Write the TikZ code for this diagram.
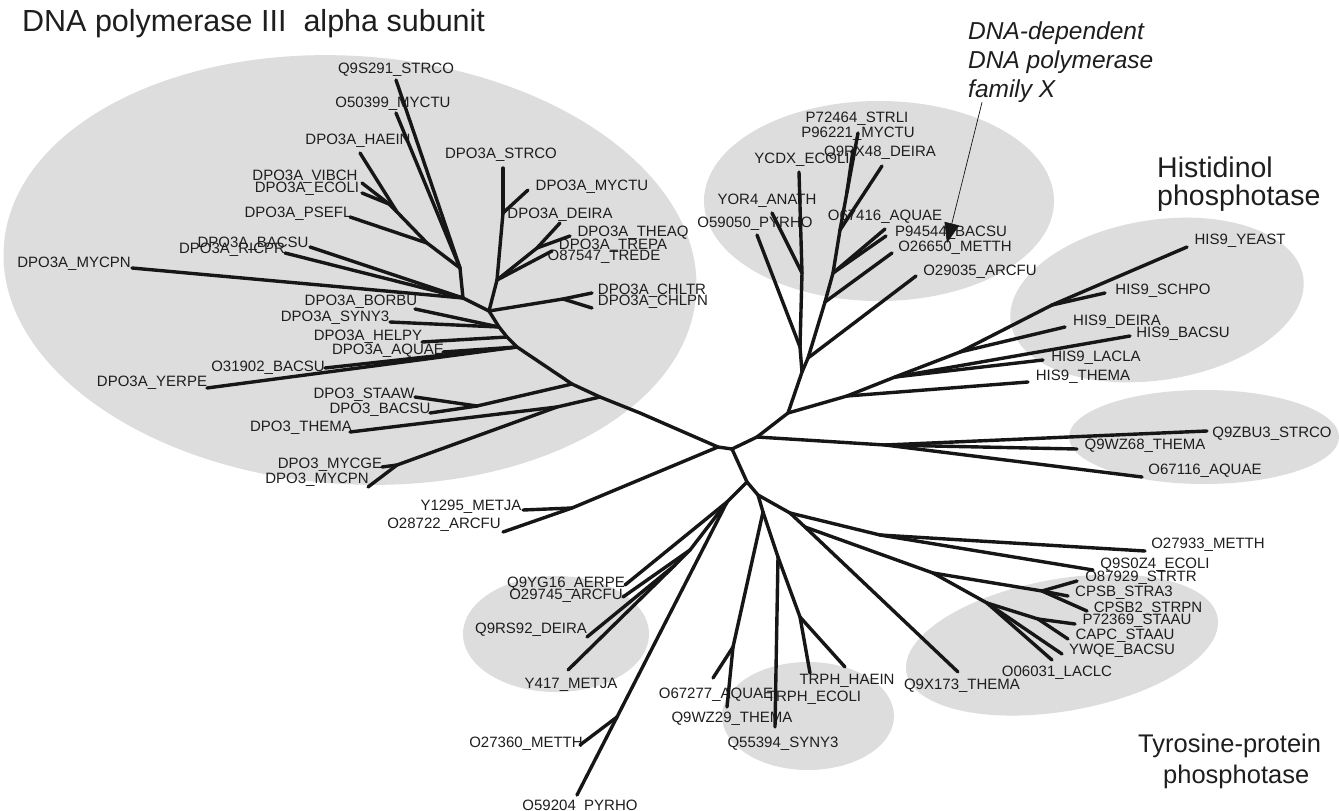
\documentclass[tikz,border=0pt]{standalone}
\usepackage{fontspec}
\setmainfont{Liberation Sans}
\usetikzlibrary{arrows.meta}
\definecolor{ellgray}{RGB}{221,221,221}
\definecolor{inkc}{RGB}{22,22,22}
\definecolor{txtc}{RGB}{30,30,30}
\begin{document}
\begin{tikzpicture}[x=1pt,y=-1pt,
  br/.style={line width=3.4pt, draw=inkc, line cap=round, line join=round},
  lab/.style={font=\fontsize{15}{15}\selectfont, text=txtc, inner sep=0pt, anchor=base},
  grp/.style={fill=ellgray, draw=none},
  head/.style={font=\fontsize{#1}{#1}\selectfont, text=txtc, inner sep=0pt, anchor=base west},
  pointer/.style={draw=inkc, line width=0.7pt, -{Triangle[length=20pt,width=15pt]}}]
\path[use as bounding box] (0,0) rectangle (1339,811);
\fill[white] (0,0) rectangle (1339,811);

% background groups
\fill[grp, rotate around={-4:(350,270)}] (350,270) ellipse [x radius=347, y radius=214];
\fill[grp] (879,201) ellipse [x radius=175, y radius=100];
\fill[grp, rotate around={9:(1157,300)}] (1157,300) ellipse [x radius=148, y radius=80];
\fill[grp] (1204,437) ellipse [x radius=135, y radius=47];
\fill[grp, rotate around={10:(1062,645)}] (1062,645) ellipse [x radius=158, y radius=66];
\fill[grp] (556,634) ellipse [x radius=93, y radius=58];
\fill[grp] (808,716) ellipse [x radius=86, y radius=54];

% headings
\node[head=30.5] (hPol3) at (22,31) {DNA polymerase III~~alpha subunit};
\node[head=24.5, font=\itshape\fontsize{24.5}{24.5}\selectfont] (hPolXa) at (968,39) {DNA-dependent};
\node[head=24.5, font=\itshape\fontsize{24.5}{24.5}\selectfont] (hPolXb) at (968,68) {DNA polymerase};
\node[head=24.5, font=\itshape\fontsize{24.5}{24.5}\selectfont] (hPolXc) at (968,97) {family X};
\node[head=28.5] (hHisa) at (1157,177) {Histidinol};
\node[head=28.5] (hHisb) at (1157,205) {phosphotase};
\node[head=25.5] (hTyra) at (1138,752) {Tyrosine-protein};
\node[head=25.5] (hTyrb) at (1163,783) {phosphotase};

% ---------- labels ----------
\node[lab] (tQ9S291) at (396,73) {Q9S291\_STRCO};
\node[lab] (tO50399) at (393,107) {O50399\_MYCTU};
\node[lab] (tHAEIN) at (358,144) {DPO3A\_HAEIN};
\node[lab] (tVIBCH) at (305,180) {DPO3A\_VIBCH};
\node[lab] (tECOLI) at (307,192) {DPO3A\_ECOLI};
\node[lab] (tPSEFL) at (298,217) {DPO3A\_PSEFL};
\node[lab] (tBACSUa) at (253,247) {DPO3A\_BACSU};
\node[lab] (tRICPR) at (232,253) {DPO3A\_RICPR};
\node[lab] (tMYCPNa) at (74,267) {DPO3A\_MYCPN};
\node[lab] (tBORBU) at (361,305) {DPO3A\_BORBU};
\node[lab] (tSYNY3) at (335,321) {DPO3A\_SYNY3};
\node[lab] (tHELPY) at (368,340) {DPO3A\_HELPY};
\node[lab] (tAQUAEa) at (388,354) {DPO3A\_AQUAE};
\node[lab] (tO31902) at (268,371) {O31902\_BACSU};
\node[lab] (tYERPE) at (152,386) {DPO3A\_YERPE};
\node[lab] (tSTAAW) at (364,398) {DPO3\_STAAW};
\node[lab] (tBACSU3) at (380,413) {DPO3\_BACSU};
\node[lab] (tTHEMA3) at (301,431) {DPO3\_THEMA};
\node[lab] (tMYCGE) at (330,468) {DPO3\_MYCGE};
\node[lab] (tMYCPN3) at (317,483) {DPO3\_MYCPN};
\node[lab] (tSTRCOa) at (501,158) {DPO3A\_STRCO};
\node[lab] (tMYCTUa) at (592,190) {DPO3A\_MYCTU};
\node[lab] (tDEIRAa) at (560,218) {DPO3A\_DEIRA};
\node[lab] (tTHEAQ) at (633,236) {DPO3A\_THEAQ};
\node[lab] (tTREPA) at (613,249) {DPO3A\_TREPA};
\node[lab] (tTREDE) at (604,260) {O87547\_TREDE};
\node[lab] (tCHLTR) at (652,294) {DPO3A\_CHLTR};
\node[lab] (tCHLPN) at (653,305) {DPO3A\_CHLPN};

\node[lab] (tP72464) at (857,122) {P72464\_STRLI};
\node[lab] (tP96221) at (858,137) {P96221\_MYCTU};
\node[lab] (tYCDX) at (802,163) {YCDX\_ECOLI};
\node[lab] (tQ9RX48) at (880,156) {Q9RX48\_DEIRA};
\node[lab] (tYOR4) at (767,204) {YOR4\_ANATH};
\node[lab] (tO59050) at (755,227) {O59050\_PYRHO};
\node[lab] (tO67416) at (885,220) {O67416\_AQUAE};
\node[lab] (tP94544) at (951,236) {P94544\_BACSU};
\node[lab] (tO26650) at (955,251) {O26650\_METTH};
\node[lab] (tO29035) at (980,275) {O29035\_ARCFU};

\node[lab] (tYEAST) at (1240,244) {HIS9\_YEAST};
\node[lab] (tSCHPO) at (1163,294) {HIS9\_SCHPO};
\node[lab] (tDEIRAh) at (1117,325) {HIS9\_DEIRA};
\node[lab] (tBACSUh) at (1183,337) {HIS9\_BACSU};
\node[lab] (tLACLA) at (1096,361) {HIS9\_LACLA};
\node[lab] (tTHEMAh) at (1083,380) {HIS9\_THEMA};

\node[lab] (tQ9ZBU3) at (1272,437) {Q9ZBU3\_STRCO};
\node[lab] (tQ9WZ68) at (1145,449) {Q9WZ68\_THEMA};
\node[lab] (tO67116) at (1205,474) {O67116\_AQUAE};

\node[lab] (tO27933) at (1208,548) {O27933\_METTH};
\node[lab] (tQ9S0Z4) at (1155,568) {Q9S0Z4\_ECOLI};
\node[lab] (tO87929) at (1141,581) {O87929\_STRTR};
\node[lab] (tSTRA3) at (1124,596) {CPSB\_STRA3};
\node[lab] (tCPSB2) at (1148,612) {CPSB2\_STRPN};
\node[lab] (tP72369) at (1137,624) {P72369\_STAAU};
\node[lab] (tCAPC) at (1125,639) {CAPC\_STAAU};
\node[lab] (tYWQE) at (1122,654) {YWQE\_BACSU};
\node[lab] (tO06031) at (1057,676) {O06031\_LACLC};
\node[lab] (tQ9X173) at (962,689) {Q9X173\_THEMA};

\node[lab] (tQ9YG16) at (566,587) {Q9YG16\_AERPE};
\node[lab] (tO29745) at (566,599) {O29745\_ARCFU};
\node[lab] (tQ9RS92) at (531,633) {Q9RS92\_DEIRA};
\node[lab] (tY417) at (571,688) {Y417\_METJA};
\node[lab] (tO27360) at (526,747) {O27360\_METTH};
\node[lab] (tO59204) at (580,810) {O59204\_PYRHO};
\node[lab] (tY1295) at (471,510) {Y1295\_METJA};
\node[lab] (tO28722) at (444,528) {O28722\_ARCFU};
\node[lab] (tO67277) at (716,698) {O67277\_AQUAE};
\node[lab] (tTRPHE) at (814,701) {TRPH\_ECOLI};
\node[lab] (tTRPHH) at (847,684) {TRPH\_HAEIN};
\node[lab] (tQ9WZ29) at (732,722) {Q9WZ29\_THEMA};
\node[lab] (tQ55394) at (783,747) {Q55394\_SYNY3};

% ---------- tree points ----------
\coordinate (A) at (718,447);
\coordinate (B) at (732,449);
\coordinate (Q0) at (757,437);
\coordinate (X4) at (788,413);
\coordinate (Qn) at (885,445);
\coordinate (lQ9ZBU3) at (1207,431);
\coordinate (lQ9WZ68) at (1077,449);
\coordinate (lO67116) at (1142,477);
\coordinate (X3) at (802,372);
\coordinate (X1) at (800,347);
\coordinate (X2) at (808,358);
\coordinate (lO59050) at (757,235);
\coordinate (Yn) at (802,273);
\coordinate (lYCDX) at (799,172);
\coordinate (lYOR4) at (772,213);
\coordinate (lO29035) at (916,276);
\coordinate (P1) at (825,302);
\coordinate (lO26650) at (892,253);
\coordinate (P2) at (833,273);
\coordinate (lP94544) at (886,236);
\coordinate (lO67416) at (885,229);
\coordinate (P3) at (840,230);
\coordinate (lQ9RX48) at (882,166);
\coordinate (P4) at (847,192);
\coordinate (lP96221) at (858,133);
\coordinate (lP72464) at (853,150);
\coordinate (H0) at (847,396);
\coordinate (lTHEMAh) at (1028,382);
\coordinate (Ha) at (895,377);
\coordinate (lLACLA) at (1043,360);
\coordinate (lBACSUh) at (1130,336);
\coordinate (Hb) at (960,352);
\coordinate (lDEIRAh) at (1065,327);
\coordinate (Hc) at (1052,305);
\coordinate (lYEAST) at (1187,247);
\coordinate (lSCHPO) at (1105,293);
\coordinate (T4) at (640,413);
\coordinate (T3) at (600,397);
\coordinate (T2) at (572,384);
\coordinate (T1) at (517,347);
\coordinate (Th) at (507,337);
\coordinate (Tb) at (499,327);
\coordinate (T0) at (489,311);
\coordinate (lBORBU) at (415,309);
\coordinate (lSYNY3) at (390,322);
\coordinate (lHELPY) at (422,342);
\coordinate (lAQUAEa) at (443,352);
\coordinate (lO31902) at (325,368);
\coordinate (lYERPE) at (207,388);
\coordinate (Ts) at (477,406);
\coordinate (lSTAAW) at (415,397);
\coordinate (lBACSU3) at (430,413);
\coordinate (Tm) at (557,407);
\coordinate (lTHEMA3) at (350,432);
\coordinate (Tmy) at (397,465);
\coordinate (lMYCGE) at (382,467);
\coordinate (lMYCPN3) at (368,487);
\coordinate (U1) at (463,298);
\coordinate (lBACSUa) at (310,247);
\coordinate (lRICPR) at (285,253);
\coordinate (lMYCPNa) at (132,268);
\coordinate (U2) at (460,268);
\coordinate (lQ9S291) at (396,80);
\coordinate (lO50399) at (396,113);
\coordinate (H1) at (427,243);
\coordinate (lPSEFL) at (350,217);
\coordinate (H2) at (397,212);
\coordinate (lHAEIN) at (360,153);
\coordinate (H3) at (389,204);
\coordinate (lVIBCH) at (362,183);
\coordinate (lECOLI) at (362,193);
\coordinate (S1) at (497,280);
\coordinate (G1) at (537,248);
\coordinate (lTHEAQ) at (560,223);
\coordinate (lTREPA) at (570,236);
\coordinate (lTREDE) at (552,251);
\coordinate (S2) at (503,213);
\coordinate (lMYCTUa) at (528,190);
\coordinate (lSTRCOa) at (503,168);
\coordinate (C1) at (563,299);
\coordinate (lCHLTR) at (592,293);
\coordinate (lCHLPN) at (592,308);
\coordinate (Y0) at (572,508);
\coordinate (lY1295) at (523,510);
\coordinate (lO28722) at (503,532);
\coordinate (B0) at (747,482);
\coordinate (B1) at (727,502);
\coordinate (lQ9YG16) at (625,585);
\coordinate (B1a) at (690,550);
\coordinate (lO29745) at (623,597);
\coordinate (B1b) at (675,565);
\coordinate (lQ9RS92) at (587,637);
\coordinate (lY417) at (568,670);
\coordinate (B1c) at (617,717);
\coordinate (lO27360) at (580,745);
\coordinate (lO59204) at (577,795);
\coordinate (B2) at (758,495);
\coordinate (B3) at (763,512);
\coordinate (Bq) at (733,647);
\coordinate (lO67277) at (713,678);
\coordinate (lQ9WZ29) at (727,707);
\coordinate (B4) at (778,557);
\coordinate (lQ55394) at (775,727);
\coordinate (B5) at (800,617);
\coordinate (lTRPHE) at (810,673);
\coordinate (lTRPHH) at (845,667);
\coordinate (R1) at (790,513);
\coordinate (R2) at (880,535);
\coordinate (lO27933) at (1145,551);
\coordinate (lQ9S0Z4) at (1093,570);
\coordinate (R3) at (805,527);
\coordinate (lQ9X173) at (958,672);
\coordinate (R4) at (933,573);
\coordinate (Ra) at (1042,591);
\coordinate (lO87929) at (1077,581);
\coordinate (lSTRA3) at (1068,596);
\coordinate (lCPSB2) at (1087,611);
\coordinate (Rb) at (987,603);
\coordinate (Rc) at (1038,619);
\coordinate (lP72369) at (1075,624);
\coordinate (lCAPC) at (1068,639);
\coordinate (lYWQE) at (1062,654);
\coordinate (lO06031) at (1052,660);

% ---------- branches ----------
\draw[br] (A) -- (B);
\draw[br] (B) -- (Q0);
\draw[br] (Q0) -- (X4);
\draw[br] (Q0) -- (Qn);
\draw[br] (Qn) -- (lQ9ZBU3);
\draw[br] (Qn) -- (lQ9WZ68);
\draw[br] (Qn) -- (lO67116);
\draw[br] (X4) -- (X3);
\draw[br] (X3) -- (X1);
\draw[br] (X3) -- (X2);
\draw[br] (X1) -- (lO59050);
\draw[br] (X1) -- (Yn);
\draw[br] (Yn) -- (lYCDX);
\draw[br] (Yn) -- (lYOR4);
\draw[br] (X2) -- (lO29035);
\draw[br] (X2) -- (P1);
\draw[br] (P1) -- (lO26650);
\draw[br] (P1) -- (P2);
\draw[br] (P2) -- (lP94544);
\draw[br] (P2) -- (lO67416);
\draw[br] (P2) -- (P3);
\draw[br] (P3) -- (lQ9RX48);
\draw[br] (P3) -- (P4);
\draw[br] (P4) -- (lP96221);
\draw[br] (P4) -- (lP72464);
\draw[br] (X4) -- (H0);
\draw[br] (H0) -- (lTHEMAh);
\draw[br] (H0) -- (Ha);
\draw[br] (Ha) -- (lLACLA);
\draw[br] (Ha) -- (lBACSUh);
\draw[br] (Ha) -- (Hb);
\draw[br] (Hb) -- (lDEIRAh);
\draw[br] (Hb) -- (Hc);
\draw[br] (Hc) -- (lYEAST);
\draw[br] (Hc) -- (lSCHPO);
\draw[br] (A) -- (T4) -- (T3) -- (T2) -- (T1) -- (Th) -- (Tb) -- (T0);
\draw[br] (Tb) -- (lBORBU);
\draw[br] (Tb) -- (lSYNY3);
\draw[br] (Th) -- (lHELPY);
\draw[br] (T1) -- (lAQUAEa);
\draw[br] (T1) -- (lO31902);
\draw[br] (T1) -- (lYERPE);
\draw[br] (T2) -- (Ts);
\draw[br] (Ts) -- (lSTAAW);
\draw[br] (Ts) -- (lBACSU3);
\draw[br] (T3) -- (Tm);
\draw[br] (Tm) -- (lTHEMA3);
\draw[br] (Tm) -- (Tmy);
\draw[br] (Tmy) -- (lMYCGE);
\draw[br] (Tmy) -- (lMYCPN3);
\draw[br] (T0) -- (U1);
\draw[br] (U1) -- (lBACSUa);
\draw[br] (U1) -- (lRICPR);
\draw[br] (U1) -- (lMYCPNa);
\draw[br] (U1) -- (U2);
\draw[br] (U2) -- (lQ9S291);
\draw[br] (U2) -- (lO50399);
\draw[br] (U2) -- (H1);
\draw[br] (H1) -- (lPSEFL);
\draw[br] (H1) -- (H2);
\draw[br] (H2) -- (lHAEIN);
\draw[br] (H2) -- (H3);
\draw[br] (H3) -- (lVIBCH);
\draw[br] (H3) -- (lECOLI);
\draw[br] (T0) -- (S1);
\draw[br] (S1) -- (G1);
\draw[br] (G1) -- (lTHEAQ);
\draw[br] (G1) -- (lTREPA);
\draw[br] (S1) -- (lTREDE);
\draw[br] (S1) -- (S2);
\draw[br] (S2) -- (lMYCTUa);
\draw[br] (S2) -- (lSTRCOa);
\draw[br] (T0) -- (C1);
\draw[br] (C1) -- (lCHLTR);
\draw[br] (C1) -- (lCHLPN);
\draw[br] (A) -- (Y0);
\draw[br] (Y0) -- (lY1295);
\draw[br] (Y0) -- (lO28722);
\draw[br] (B) -- (B0);
\draw[br] (B0) -- (B1);
\draw[br] (B1) -- (lQ9YG16);
\draw[br] (B1) -- (B1a);
\draw[br] (B1a) -- (lO29745);
\draw[br] (B1a) -- (B1b);
\draw[br] (B1b) -- (lQ9RS92);
\draw[br] (B1b) -- (lY417);
\draw[br] (B1) -- (B1c);
\draw[br] (B1c) -- (lO27360);
\draw[br] (B1c) -- (lO59204);
\draw[br] (B0) -- (B2);
\draw[br] (B2) -- (B3);
\draw[br] (B3) -- (Bq);
\draw[br] (Bq) -- (lO67277);
\draw[br] (Bq) -- (lQ9WZ29);
\draw[br] (B3) -- (B4);
\draw[br] (B4) -- (lQ55394);
\draw[br] (B4) -- (B5);
\draw[br] (B5) -- (lTRPHE);
\draw[br] (B5) -- (lTRPHH);
\draw[br] (B2) -- (R1);
\draw[br] (R1) -- (R2);
\draw[br] (R2) -- (lO27933);
\draw[br] (R2) -- (lQ9S0Z4);
\draw[br] (R1) -- (R3);
\draw[br] (R3) -- (lQ9X173);
\draw[br] (R3) -- (R4);
\draw[br] (R4) -- (Ra);
\draw[br] (Ra) -- (lO87929);
\draw[br] (Ra) -- (lSTRA3);
\draw[br] (Ra) -- (lCPSB2);
\draw[br] (R4) -- (Rb);
\draw[br] (Rb) -- (Rc);
\draw[br] (Rc) -- (lP72369);
\draw[br] (Rc) -- (lCAPC);
\draw[br] (Rb) -- (lYWQE);
\draw[br] (Rb) -- (lO06031);

% pointer from the family X heading
\coordinate (arrTip) at (947,243);
\draw[pointer] (hPolXc.south west) ++(14,0) coordinate (arrStart) (arrStart) -- (arrTip);
\end{tikzpicture}
\end{document}
